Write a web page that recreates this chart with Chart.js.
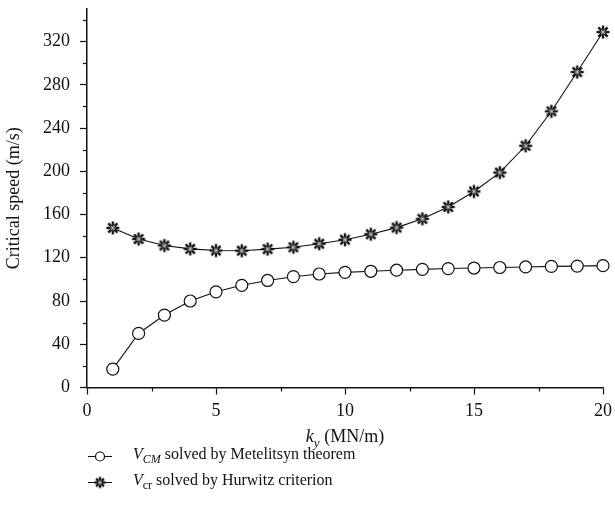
<!DOCTYPE html>
<html>
<head>
<meta charset="utf-8">
<script src="https://cdn.jsdelivr.net/npm/chart.js@4"></script>
<style>
  html, body { margin: 0; padding: 0; background: #fff; }
  #wrap { position: relative; width: 615px; height: 529px; font-family: 'Liberation Serif', 'DejaVu Serif', serif; color: #111; }
  #chart { position: absolute; left: 0; top: 0; }
  .xtitle { position: absolute; left: 345px; top: 426px; transform: translateX(-50%); font-size: 18px; white-space: nowrap; }
  .xtitle i sub { font-size: 13px; }
  .legend { position: absolute; left: 88px; top: 443px; font-size: 16px; }
  .legend .row { height: 26px; display: flex; align-items: center; white-space: nowrap; }
  .legend .sample { width: 24px; height: 16px; margin-right: 21px; }
  .legend sub { font-size: 12px; }
</style>
</head>
<body>
<div id="wrap">
  <canvas id="chart" width="615" height="529"></canvas>
  <div class="xtitle"><i>k<sub>y</sub></i> (MN/m)</div>
  <div class="legend">
    <div class="row"><canvas class="sample" id="legCm" width="24" height="16"></canvas><span><i>V<sub>CM</sub></i> solved by Metelitsyn theorem</span></div>
    <div class="row"><canvas class="sample" id="legCr" width="24" height="16"></canvas><span><i>V</i><sub>cr</sub> solved by Hurwitz criterion</span></div>
  </div>
</div>
<script>
// ── Data ──────────────────────────────────────────────────
const ky  = [1, 2, 3, 4, 5, 6, 7, 8, 9, 10, 11, 12, 13, 14, 15, 16, 17, 18, 19, 20];
const vCM = [17, 50, 67, 80, 88.5, 94.5, 99, 102.5, 105, 106.5, 107.5, 108.5, 109.3, 110, 110.5, 111, 111.5, 112, 112.3, 112.7];
const vCr = [147.6, 137.3, 131.3, 128.2, 126.7, 126.5, 128, 129.7, 133, 136.7, 141.8, 147.9, 156, 167, 181.3, 198.8, 223.6, 255.5, 291.8, 328.8];
const xTicks      = [0, 5, 10, 15, 20];
const xMinorTicks = [2.5, 7.5, 12.5, 17.5];
const yTicks      = [0, 40, 80, 120, 160, 200, 240, 280, 320];
const yMinorTicks = [20, 60, 100, 140, 180, 220, 260, 300, 340];

const FONT = "'Liberation Serif', 'DejaVu Serif', serif";

// ── Star marker image ─────────────────────────────────────
function makeStar(size) {
  const c = document.createElement('canvas');
  c.width = c.height = size;
  const g = c.getContext('2d');
  const m = size / 2, r = size / 2 - 1.5;
  const spokes = (w, col, rr) => {
    g.strokeStyle = col; g.lineWidth = w;
    for (let k = 0; k < 4; k++) {
      const a = k * Math.PI / 4;
      g.beginPath();
      g.moveTo(m - rr * Math.cos(a), m - rr * Math.sin(a));
      g.lineTo(m + rr * Math.cos(a), m + rr * Math.sin(a));
      g.stroke();
    }
  };
  spokes(2.4, '#111', r);
  spokes(1, '#bbb', r * 0.4);
  return c;
}
const starImg = makeStar(16);

// ── Minor ticks plugin ────────────────────────────────────
const minorTicks = {
  id: 'minorTicks',
  afterDraw(chart) {
    const { ctx, scales: { x, y } } = chart;
    ctx.save();
    ctx.strokeStyle = '#111';
    ctx.lineWidth = 1.2;
    xMinorTicks.forEach(v => {
      const px = Math.round(x.getPixelForValue(v)) + 0.5;
      ctx.beginPath(); ctx.moveTo(px, y.bottom); ctx.lineTo(px, y.bottom + 4); ctx.stroke();
    });
    yMinorTicks.forEach(v => {
      const py = Math.round(y.getPixelForValue(v)) + 0.5;
      ctx.beginPath(); ctx.moveTo(x.left, py); ctx.lineTo(x.left - 4, py); ctx.stroke();
    });
    ctx.restore();
  }
};

// ── Chart ─────────────────────────────────────────────────
new Chart(document.getElementById('chart'), {
  type: 'line',
  data: {
    datasets: [
      {
        label: 'V_CM solved by Metelitsyn theorem',
        data: ky.map((k, i) => ({ x: k, y: vCM[i] })),
        borderColor: '#111',
        borderWidth: 1.1,
        pointStyle: 'circle',
        pointRadius: 6,
        pointBorderWidth: 1.2,
        pointBackgroundColor: '#fff',
        pointBorderColor: '#111',
        tension: 0,
        clip: false,
      },
      {
        label: 'V_cr solved by Hurwitz criterion',
        data: ky.map((k, i) => ({ x: k, y: vCr[i] })),
        borderColor: '#111',
        borderWidth: 1.1,
        pointStyle: starImg,
        pointRadius: 8,
        tension: 0,
        clip: false,
      }
    ]
  },
  options: {
    responsive: false,
    animation: false,
    layout: { padding: { top: 3, right: 12, left: 0, bottom: 0 } },
    plugins: { legend: { display: false }, tooltip: { enabled: false } },
    scales: {
      x: {
        type: 'linear',
        min: 0, max: 20,
        afterFit: s => { s.height = 141.5; s.paddingLeft = 0; s.paddingRight = 0; },
        afterBuildTicks: s => { s.ticks = xTicks.map(v => ({ value: v })); },
        grid: { drawOnChartArea: false, color: '#111', tickLength: 7, tickWidth: 1.2 },
        border: { color: '#111', width: 1.5 },
        ticks: { color: '#111', padding: 6, maxRotation: 0, font: { family: FONT, size: 18 } }
      },
      y: {
        min: 0, max: 350,
        afterFit: s => { s.width = 87; s.paddingTop = 0; s.paddingBottom = 0; },
        afterBuildTicks: s => { s.ticks = yTicks.map(v => ({ value: v })); },
        grid: { drawOnChartArea: false, color: '#111', tickLength: 7, tickWidth: 1.2 },
        border: { color: '#111', width: 1.5 },
        ticks: { color: '#111', padding: 10, font: { family: FONT, size: 18 } },
        title: { display: true, text: 'Critical speed (m/s)', color: '#111', padding: { top: 3, bottom: 0 }, font: { family: FONT, size: 18 } }
      }
    }
  },
  plugins: [minorTicks]
});

// ── Legend samples ────────────────────────────────────────
function sample(id, drawMarker) {
  const g = document.getElementById(id).getContext('2d');
  g.strokeStyle = '#111'; g.lineWidth = 1;
  g.beginPath(); g.moveTo(0, 8.5); g.lineTo(24, 8.5); g.stroke();
  drawMarker(g);
}
sample('legCm', g => {
  g.fillStyle = '#fff'; g.lineWidth = 1.2;
  g.beginPath(); g.arc(12, 8.5, 4.5, 0, Math.PI * 2); g.fill(); g.stroke();
});
sample('legCr', g => { g.drawImage(makeStar(14), 5, 1.5); });
</script>
</body>
</html>
